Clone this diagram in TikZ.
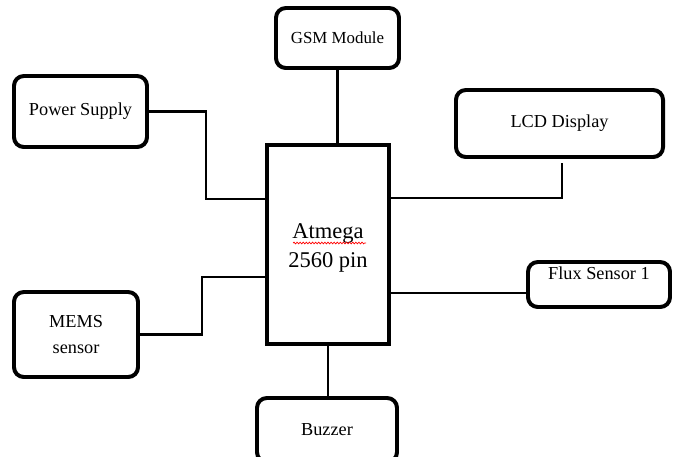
\documentclass[tikz,border=0pt]{standalone}
\usepackage{fontspec}
\setmainfont{Liberation Serif}
\usetikzlibrary{decorations.pathmorphing}

\begin{document}
\begin{tikzpicture}[x=0.025cm, y=-0.025cm,
    block/.style={draw, line width=2.8pt, rounded corners=7pt, fill=white,
        font=\fontsize{13pt}{15pt}\selectfont, align=center, inner sep=0pt},
    wire/.style={line width=1.5pt}]
    \clip (0,0) rectangle (678,456);
    \fill[white] (0,0) rectangle (678,456);
    \node[draw, line width=2.8pt, minimum width=3.05cm, minimum height=4.975cm] (atmega) at (328,244.5) {};
    \node[font=\fontsize{16pt}{20.5pt}\selectfont, align=center, inner sep=0pt] (atmegatext) at (328,248) {Atmega\\2560 pin};
    \draw[red, line width=0.5pt, decorate, decoration={snake, amplitude=0.6pt, segment length=2.2pt}]
        (293,243) -- (366,243);
    \node[block, minimum width=3.075cm, minimum height=1.5cm, font=\fontsize{12pt}{14pt}\selectfont] (gsm) at (337.5,38) {GSM Module};
    \node[block, minimum width=3.325cm, minimum height=1.775cm] (power) at (80.5,111.5) {Power Supply};
    \node[block, minimum width=5.175cm, minimum height=1.675cm] (lcd) at (559.5,123.5) {LCD Display};
    \node[block, minimum width=3.55cm, minimum height=1.125cm] (flux) at (599,284.5) {};
    \node[font=\fontsize{13pt}{15pt}\selectfont, anchor=north, inner sep=0pt] (fluxtext) at ([yshift=-0.15cm]flux.north) {Flux Sensor 1};
    \node[block, minimum width=3.1cm, minimum height=2.125cm, font=\fontsize{13pt}{18.5pt}\selectfont] (mems) at (76,334.5) {MEMS\\sensor};
    \node[block, minimum width=3.5cm, minimum height=1.6cm] (buzzer) at (327,430) {Buzzer};
    \coordinate (pw) at (206,199);
    \coordinate (lc) at (562,198);
    \coordinate (lcdend) at (562,163);
    \coordinate (fx) at (528,293);
    \coordinate (ms) at (202,277);
    \draw[wire] (gsm.south) -- (gsm.south |- atmega.north);
    \draw[wire] (power.east) -| (pw) -- (pw -| atmega.west);
    \draw[wire] (lc -| atmega.east) -- (lc) -- (lcdend);
    \draw[wire] (fx -| atmega.east) -- (fx -| flux.west);
    \draw[wire] (mems.east) -| (ms) -- (ms -| atmega.west);
    \draw[wire] (atmega.south) -- (atmega.south |- buzzer.north);
\end{tikzpicture}
\end{document}
